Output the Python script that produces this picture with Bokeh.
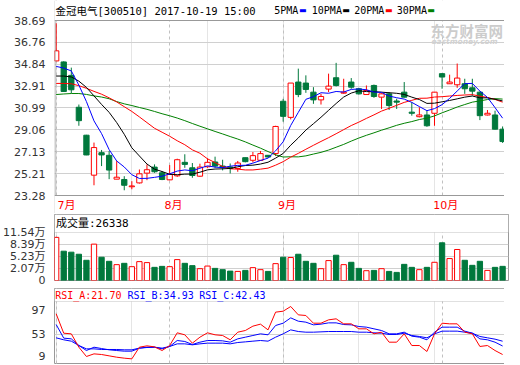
import numpy as np
from bokeh.plotting import figure
from bokeh.layouts import column
from bokeh.models import (ColumnDataSource, Range1d, FixedTicker, Label, BoxAnnotation, Grid,
                          PrintfTickFormatter, Span)
from bokeh.embed import file_html
from bokeh.resources import INLINE

# ---------------- data ----------------
title_text = "金冠电气[300510] 2017-10-19 15:00"
ma_names = ["5PMA", "10PMA", "20PMA", "30PMA"]
month_labels = ["7月", "8月", "9月", "10月"]
month_start = [0, 15, 30, 51]
price_ticks = [23.28, 25.21, 27.13, 29.06, 30.99, 32.91, 34.84, 36.76, 38.69]
vol_ticks = [2.07, 5.23, 8.39, 11.54]
vol_floor = -1.09
rsi_tick_labels = ["97", "53", "9"]
rsi_tick_pos = [91.8, 53.0, 20.1]
rsi_lo, rsi_hi = 7.68, 104.3

opens = [35.13, 35.04, 33.86, 31.05, 28.59, 25.07, 27.05, 26.82, 24.72, 24.69,
         24.05, 24.39, 25.25, 25.78, 25.28, 24.66, 25.01, 26.20, 25.72, 24.98,
         25.81, 26.23, 25.87, 25.78, 25.66, 26.61, 26.38, 26.38, 26.82, 26.97,
         31.58, 30.16, 33.27, 33.18, 32.38, 31.70, 32.65, 33.65, 32.29, 33.27,
         32.68, 32.17, 32.97, 31.94, 32.23, 31.60, 32.38, 30.62, 30.22, 30.37,
         30.52, 34.01, 33.12, 33.03, 33.12, 32.76, 32.38, 30.37, 30.37, 29.12]
highs = [38.45, 35.10, 34.54, 31.29, 28.62, 27.94, 27.29, 27.20, 26.31, 24.98,
         24.54, 25.57, 26.02, 26.02, 25.43, 25.96, 26.52, 26.91, 26.14, 26.08,
         26.55, 26.70, 26.43, 26.10, 26.32, 26.61, 27.11, 27.20, 26.85, 29.42,
         31.79, 33.18, 34.45, 33.86, 32.82, 32.23, 34.01, 34.96, 33.56, 33.62,
         32.76, 32.97, 33.05, 32.29, 32.38, 31.80, 33.27, 31.49, 31.05, 30.75,
         32.38, 34.05, 33.92, 34.90, 33.56, 33.56, 32.45, 30.81, 30.75, 29.36]
lows = [35.13, 32.40, 32.29, 29.42, 26.83, 24.18, 25.87, 24.72, 24.72, 23.74,
        23.83, 24.33, 24.63, 25.28, 24.63, 24.63, 24.92, 25.72, 24.84, 24.92,
        25.72, 25.72, 25.49, 25.22, 25.37, 26.20, 26.20, 26.38, 26.64, 26.76,
        29.78, 29.98, 31.94, 32.32, 31.35, 31.29, 32.38, 32.88, 32.23, 32.68,
        32.17, 32.14, 31.88, 30.90, 30.81, 30.90, 31.90, 30.31, 30.16, 29.33,
        29.42, 32.68, 33.10, 32.76, 32.23, 32.08, 29.92, 30.33, 29.10, 27.91]
closes = [36.02, 32.44, 32.59, 29.87, 26.85, 27.50, 26.85, 25.52, 24.89, 24.18,
          24.12, 25.19, 25.55, 25.37, 24.69, 25.13, 26.43, 26.02, 25.04, 25.78,
          26.20, 25.87, 25.78, 25.66, 26.14, 26.26, 26.79, 26.97, 26.67, 29.36,
          30.25, 33.18, 32.17, 32.62, 31.70, 32.00, 32.91, 32.97, 32.38, 32.82,
          32.23, 32.53, 32.00, 32.23, 31.20, 31.50, 31.94, 30.52, 30.37, 29.42,
          32.38, 33.71, 33.27, 33.62, 32.68, 32.47, 30.31, 30.52, 29.12, 28.03]

ma5 = [34.65, 34.50, 34.25, 33.00, 31.55, 29.85, 28.73, 27.32, 26.32, 25.79,
       25.11, 24.78, 24.79, 24.88, 24.98, 25.19, 25.43, 25.53, 25.46, 25.68,
       25.89, 25.78, 25.73, 25.86, 25.93, 25.94, 26.13, 26.36, 26.57, 27.21,
       28.01, 29.45, 30.60, 31.75, 31.98, 32.33, 32.28, 32.44, 32.39, 32.62,
       32.66, 32.59, 32.39, 32.36, 32.04, 31.89, 31.77, 31.48, 31.11, 30.75,
       30.93, 31.28, 31.83, 32.48, 33.13, 33.15, 32.47, 31.92, 31.02, 30.09]
ma10 = [33.80, 33.80, 33.72, 33.35, 32.80, 32.05, 31.30, 30.60, 29.70, 28.67,
        27.48, 26.76, 26.05, 25.60, 25.39, 25.15, 25.11, 25.16, 25.17, 25.33,
        25.54, 25.61, 25.63, 25.66, 25.81, 25.92, 25.95, 26.05, 26.21, 26.57,
        26.98, 27.71, 28.35, 29.04, 29.60, 30.17, 30.78, 31.38, 31.95, 32.30,
        32.50, 32.43, 32.42, 32.38, 32.33, 32.28, 32.18, 31.94, 31.73, 31.39,
        31.41, 31.53, 31.65, 31.79, 31.94, 32.04, 31.88, 31.88, 31.75, 31.61]
ma20 = [33.15, 33.15, 33.12, 32.95, 32.72, 32.45, 32.20, 31.88, 31.52, 31.10,
        30.68, 30.20, 29.70, 29.20, 28.85, 28.50, 28.10, 27.75, 27.30, 27.00,
        26.51, 26.18, 25.84, 25.63, 25.60, 25.53, 25.53, 25.60, 25.69, 25.95,
        26.26, 26.66, 26.99, 27.35, 27.70, 28.04, 28.37, 28.72, 29.08, 29.44,
        29.74, 30.07, 30.38, 30.71, 30.96, 31.22, 31.48, 31.66, 31.84, 31.85,
        31.95, 31.98, 32.04, 32.09, 32.13, 32.16, 32.03, 31.91, 31.74, 31.50]
ma30 = [32.17, 32.22, 32.26, 32.26, 32.18, 32.05, 31.95, 31.80, 31.55, 31.35,
        31.20, 31.03, 30.87, 30.68, 30.48, 30.30, 30.10, 29.87, 29.62, 29.38,
        29.15, 28.92, 28.70, 28.47, 28.25, 28.00, 27.72, 27.45, 27.15, 26.86,
        26.67, 26.69, 26.68, 26.77, 26.93, 27.08, 27.28, 27.53, 27.78, 28.07,
        28.34, 28.58, 28.80, 29.03, 29.24, 29.46, 29.64, 29.79, 29.97, 30.09,
        30.29, 30.56, 30.81, 31.07, 31.29, 31.50, 31.61, 31.73, 31.81, 31.77]

volume_wan = [10.26, 6.62, 6.36, 5.82, 4.23, 8.48, 5.03, 3.96, 3.08, 3.43,
              2.55, 3.88, 3.62, 2.37, 2.63, 2.55, 4.41, 3.43, 2.82, 2.02,
              2.71, 2.10, 1.76, 1.38, 1.30, 1.57, 2.29, 1.76, 1.30, 3.35,
              5.03, 4.95, 5.82, 3.96, 3.43, 2.02, 4.15, 5.56, 3.08, 3.70,
              2.10, 1.49, 1.57, 2.02, 1.30, 1.04, 3.16, 2.37, 1.76, 2.37,
              3.70, 8.83, 4.68, 7.07, 4.23, 2.90, 3.96, 1.57, 2.37, 2.6338]

rsi_a = [85.1, 54.9, 53.9, 33.1, 18.6, 22.7, 21.7, 19.6, 17.5, 16.0,
         14.9, 33.1, 35.2, 33.6, 27.9, 35.7, 55.5, 52.4, 39.4, 48.7,
         55.5, 52.4, 51.3, 44.6, 56.5, 59.1, 65.9, 69.0, 60.1, 87.7,
         89.2, 96.5, 83.5, 82.5, 70.5, 70.5, 75.7, 77.3, 69.5, 69.5,
         61.7, 61.7, 53.9, 56.5, 40.9, 40.9, 53.9, 35.7, 35.7, 26.4,
         53.9, 70.5, 69.5, 69.5, 56.5, 53.9, 34.2, 35.7, 27.9, 21.70]
rsi_b = [68.4, 47.2, 46.1, 35.7, 27.9, 33.1, 31.0, 29.0, 27.9, 26.9,
         26.9, 31.6, 33.1, 33.1, 30.5, 34.2, 43.5, 42.0, 37.3, 40.9,
         43.5, 43.5, 43.0, 40.9, 46.1, 48.7, 51.3, 53.9, 52.4, 66.9,
         70.5, 78.8, 73.6, 72.1, 67.9, 69.0, 71.0, 71.0, 68.4, 67.9,
         65.3, 64.3, 61.7, 59.1, 53.9, 53.9, 56.5, 50.3, 48.7, 44.6,
         56.5, 64.3, 64.3, 64.3, 58.1, 54.9, 46.1, 44.6, 40.9, 34.93]
rsi_c = [47.7, 44.6, 42.5, 35.7, 30.5, 30.5, 29.5, 29.5, 29.5, 29.0,
         29.0, 31.6, 32.6, 33.1, 31.6, 34.2, 38.3, 38.3, 36.8, 38.3,
         39.4, 39.4, 39.4, 38.3, 40.4, 41.4, 42.5, 43.5, 42.5, 48.7,
         53.9, 60.1, 57.5, 56.5, 56.5, 57.0, 57.5, 57.5, 57.5, 57.5,
         56.5, 56.5, 55.5, 54.9, 52.9, 52.9, 54.9, 51.3, 49.8, 47.7,
         53.9, 58.1, 58.1, 58.1, 56.5, 54.9, 49.8, 47.7, 45.6, 42.43]

# ---------------- styling / layout ----------------
UP = "#ff0000"
DOWN = "#00783c"
MA_COLORS = ["#0000ff", "#000000", "#ff0000", "#008000"]
FRAME = "#999999"
GRID = "#d0d0d0"
VGRID = "#c0c0c0"
MONO = "DejaVu Sans Mono, Noto Sans CJK SC"
SANS = "DejaVu Sans, Noto Sans CJK SC"

LB, RB = 48, 2
FW = 454                      # frame width in px
TITLE_H, PRICE_H, MONTH_H = 20, 175, 18
VOLH_H, VOL_H = 18, 48
RSIH_H, RSI_H = 13, 62
BAR_W = 0.7

n = len(closes)
x = np.arange(n)
x_start, x_end = -0.22, n - 0.22
ppu = FW / (x_end - x_start)


def xpx(px):
    """data x at px from the frame's left edge"""
    return x_start + px / ppu


o, h, l, c = map(np.array, (opens, highs, lows, closes))
up = c >= o
colors = [UP if u else DOWN for u in up]
fills = ["white" if u else DOWN for u in up]
src = ColumnDataSource(dict(x=x, o=o, h=h, l=l, c=c,
                            top=np.maximum(o, c), bottom=np.minimum(o, c),
                            color=colors, fill=fills, vol=volume_wan))
x_range = Range1d(x_start, x_end)


def style_axis(p):
    p.background_fill_color = "white"
    p.border_fill_color = "white"
    for ax in p.yaxis:
        ax.axis_line_color = None
        ax.major_tick_line_color = None
        ax.minor_tick_line_color = None
        ax.major_label_standoff = 3
        ax.major_label_text_font = SANS
        ax.major_label_text_font_size = "11px"
        ax.major_label_text_color = "#333333"


def month_grid(p):
    p.add_layout(Grid(dimension=0, ticker=FixedTicker(ticks=month_start),
                      grid_line_color=VGRID, grid_line_dash="3 3", grid_line_width=1))


def label(p, xx, yy, text, font=MONO, size="10px", color="#000000", align="left", **kw):
    p.add_layout(Label(x=xx, y=yy, text=text, text_font=font, text_font_size=size,
                       text_color=color, text_baseline="middle", text_align=align, **kw))


# ---------------- price panel (title strip + price + month strip) ----------------
p_lo, p_hi = price_ticks[0], price_ticks[-1]
upp1 = (p_hi - p_lo) / PRICE_H
y1_top = p_hi + TITLE_H * upp1
y1_bot = p_lo - MONTH_H * upp1


def y1(px):
    return y1_top - px * upp1


p1 = figure(frame_width=FW, frame_height=TITLE_H + PRICE_H + MONTH_H, x_range=x_range,
            y_range=Range1d(y1_bot, y1_top), x_axis_location=None,
            output_backend="svg", toolbar_location=None,
            min_border_left=LB, min_border_right=RB, min_border_top=0, min_border_bottom=0)
style_axis(p1)
p1.outline_line_color = None
p1.yaxis.ticker = FixedTicker(ticks=price_ticks)
p1.yaxis.formatter = PrintfTickFormatter(format="%.2f")
p1.ygrid.ticker = FixedTicker(ticks=price_ticks[1:-1])
p1.ygrid.grid_line_color = GRID
month_grid(p1)

p1.segment(x0="x", y0="l", x1="x", y1="h", line_color="color", line_width=1, source=src)
p1.vbar(x="x", width=BAR_W, top="top", bottom="bottom", fill_color="fill",
        line_color="color", line_width=1, source=src)
for ma, col in list(zip([ma5, ma10, ma20, ma30], MA_COLORS))[::-1]:
    p1.line(x, ma, line_color=col, line_width=1)

# frame edges of the price area
p1.add_layout(Span(location=xpx(0.5), dimension="height", line_color=FRAME, line_width=1))
p1.add_layout(Span(location=xpx(FW - 0.5), dimension="height", line_color=FRAME, line_width=1))
p1.add_layout(BoxAnnotation(bottom=p_hi, fill_color="white", fill_alpha=1.0, line_color=None))
p1.add_layout(BoxAnnotation(top=p_lo, fill_color="white", fill_alpha=1.0, line_color=None))
p1.add_layout(Span(location=p_hi, dimension="width", line_color=FRAME, line_width=1))
p1.add_layout(Span(location=p_lo, dimension="width", line_color=FRAME, line_width=1))

# watermark
label(p1, xpx(376), y1(TITLE_H + 9.5), "东方财富网", font="Noto Sans CJK SC", size="14.5px",
      color="#cccccc", text_font_style="bold")
label(p1, xpx(377), y1(TITLE_H + 21), "eastmoney.com", font="DejaVu Sans", size="7.5px",
      color="#d2d2d2", text_font_style="bold italic")

# title and MA legend
ty = y1(TITLE_H / 2)
label(p1, xpx(1), ty, title_text, size="10.5px")
leg_text_px = [219.7, 257.3, 299.7, 342.3]
leg_box_px = [248.2, 291.5, 334.2, 376.5]
for name, tx, bx, col in zip(ma_names, leg_text_px, leg_box_px, MA_COLORS):
    label(p1, xpx(tx), ty, name)
    label(p1, xpx(bx), ty, "▬", font="DejaVu Sans", size="8px", color=col, align="center")

# month labels (the first one is kept inside the frame)
my = p_lo - (MONTH_H / 2 + 1) * upp1
for i, (m, lab) in enumerate(zip(month_start, month_labels)):
    if i == 0:
        label(p1, xpx(3), my, lab, font=SANS, size="11px", color="#ff0000", align="left")
    else:
        label(p1, m + 0.5, my, lab, font=SANS, size="11px", color="#ff0000", align="center")

# ---------------- volume panel ----------------
upp2 = (vol_ticks[-1] - vol_floor) / VOL_H
p2 = figure(frame_width=FW, frame_height=VOLH_H + VOL_H, x_range=x_range,
            y_range=Range1d(vol_floor, vol_ticks[-1] + VOLH_H * upp2), x_axis_location=None,
            output_backend="svg", toolbar_location=None,
            min_border_left=LB, min_border_right=RB, min_border_top=1, min_border_bottom=7)
style_axis(p2)
p2.outline_line_color = FRAME
p2.yaxis.ticker = FixedTicker(ticks=[vol_floor] + vol_ticks)
ov = {vol_floor: "0"}
ov.update({v: f"{v:.2f}万" for v in vol_ticks})
p2.yaxis.major_label_overrides = ov
p2.ygrid.ticker = FixedTicker(ticks=vol_ticks[:-1])
p2.ygrid.grid_line_color = GRID
month_grid(p2)
p2.vbar(x="x", width=BAR_W, top="vol", bottom=vol_floor, fill_color="fill",
        line_color="color", line_width=1, source=src)
p2.add_layout(BoxAnnotation(bottom=vol_ticks[-1], fill_color="white", fill_alpha=1.0,
                            line_color=FRAME, line_width=1))
label(p2, xpx(1.5), vol_ticks[-1] + (VOLH_H / 2) * upp2,
      f"成交量:{round(volume_wan[-1] * 10000)}", size="11px")

# ---------------- RSI panel ----------------
upp3 = (rsi_hi - rsi_lo) / RSI_H
p3 = figure(frame_width=FW, frame_height=RSIH_H + RSI_H, x_range=x_range,
            y_range=Range1d(rsi_lo, rsi_hi + RSIH_H * upp3), x_axis_location=None,
            output_backend="svg", toolbar_location=None,
            min_border_left=LB, min_border_right=RB, min_border_top=1, min_border_bottom=1)
style_axis(p3)
p3.outline_line_color = FRAME
p3.yaxis.ticker = FixedTicker(ticks=rsi_tick_pos)
p3.yaxis.major_label_overrides = dict(zip(rsi_tick_pos, rsi_tick_labels))
p3.ygrid.ticker = FixedTicker(ticks=[rsi_tick_pos[1]])
p3.ygrid.grid_line_color = GRID
month_grid(p3)
p3.line(x, rsi_c, line_color="#0000ff", line_width=1)
p3.line(x, rsi_b, line_color="#0000ff", line_width=1)
p3.line(x, rsi_a, line_color="#ff0000", line_width=1)
p3.add_layout(BoxAnnotation(bottom=rsi_hi, fill_color="white", fill_alpha=1.0,
                            line_color=FRAME, line_width=1))
rsi_names = ["RSI_A", "RSI_B", "RSI_C"]
rsi_last = [rsi_a[-1], rsi_b[-1], rsi_c[-1]]
rsi_cols = ["#ff0000", "#0000ff", "#0000ff"]
rsi_text_px = [0.7, 73, 144.7]
for nm, v, col, tx in zip(rsi_names, rsi_last, rsi_cols, rsi_text_px):
    label(p3, xpx(tx), rsi_hi + (RSIH_H / 2) * upp3, f"{nm}:{v:.2f}", color=col)

layout = column(p1, p2, p3, spacing=0)
open("out.html", "w").write(file_html(layout, INLINE))
